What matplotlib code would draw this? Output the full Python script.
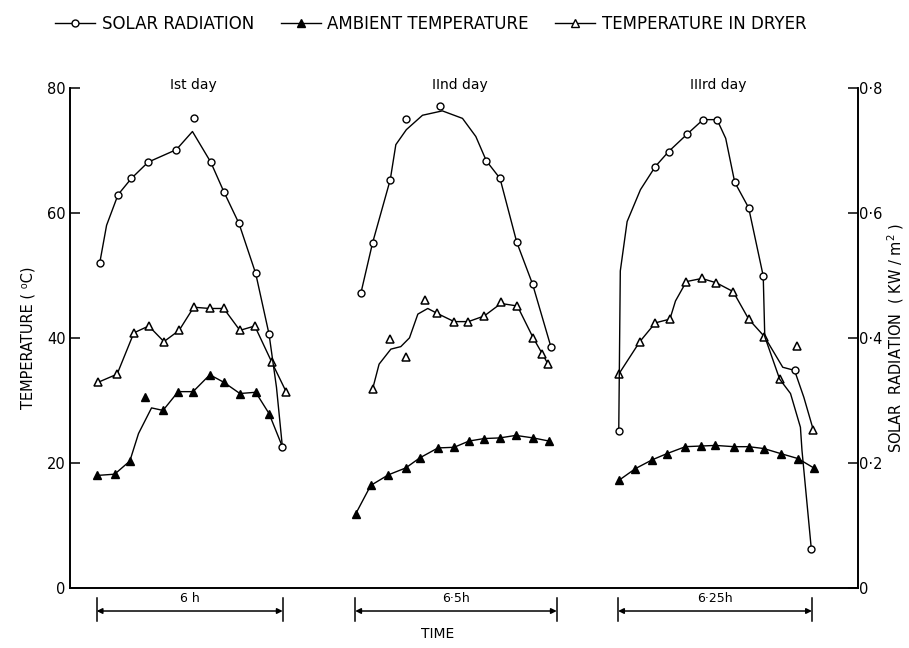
import matplotlib
matplotlib.use("AGG")
import matplotlib.pyplot as plt
import matplotlib.transforms as mtransforms
import numpy as np

day_names = ["Ist day", "IInd day", "IIIrd day"]
day_hours = [6, 6.5, 6.25]
day_hour_labels = ["6 h", "6·5h", "6·25h"]

# readings, in hours after the start of each day's run
solar_t = [
    [0.08, 0.67, 1.10, 1.64, 2.55, 3.11, 3.66, 4.08, 4.57, 5.11, 5.54, 5.97],
    [0.16, 0.54, 1.11, 1.63, 2.72, 4.21, 4.65, 5.19, 5.70, 6.29],
    [0.0, 1.18, 1.61, 2.21, 2.72, 3.17, 3.74, 4.19, 4.66, 5.67, 6.21],
]
solar_kw = [
    [0.520, 0.629, 0.655, 0.681, 0.701, 0.751, 0.681, 0.634, 0.583, 0.503, 0.406, 0.226],
    [0.471, 0.552, 0.653, 0.750, 0.770, 0.683, 0.655, 0.553, 0.486, 0.386],
    [0.251, 0.674, 0.698, 0.726, 0.749, 0.749, 0.649, 0.608, 0.499, 0.348, 0.063],
]
# hand drawn curves
solar_curve_t = [
    [0.08, 0.30, 0.67, 1.10, 1.64, 2.55, 3.07, 3.66, 4.08, 4.57, 5.11, 5.54, 5.78, 5.97],
    [0.16, 0.54, 1.11, 1.29, 1.63, 2.15, 2.79, 3.44, 3.87, 4.21, 4.65, 5.19, 5.70, 6.29],
    [0.0, 0.05, 0.27, 0.70, 1.18, 1.61, 2.21, 2.72, 3.17, 3.45, 3.74, 4.19, 4.66, 4.71,
     5.19, 5.54, 5.86, 5.91, 6.21],
]
solar_curve_kw = [
    [0.520, 0.580, 0.629, 0.655, 0.681, 0.701, 0.730, 0.681, 0.634, 0.583, 0.503, 0.406, 0.321, 0.226],
    [0.471, 0.552, 0.653, 0.709, 0.733, 0.756, 0.763, 0.751, 0.722, 0.683, 0.655, 0.553, 0.486, 0.386],
    [0.251, 0.507, 0.586, 0.637, 0.674, 0.698, 0.726, 0.749, 0.749, 0.719, 0.649, 0.608, 0.499, 0.402,
     0.334, 0.311, 0.257, 0.220, 0.063],
]

ambient_t = [
    [0.0, 0.56, 1.05, 1.55, 2.12, 2.61, 3.09, 3.63, 4.08, 4.60, 5.11, 5.54],
    [0.0, 0.48, 1.05, 1.61, 2.06, 2.65, 3.17, 3.65, 4.14, 4.64, 5.16, 5.72, 6.23],
    [0.0, 0.54, 1.08, 1.56, 2.15, 2.64, 3.12, 3.71, 4.19, 4.68, 5.22, 5.78, 6.29],
]
ambient_c = [
    [18.0, 18.2, 20.3, 30.6, 28.4, 31.4, 31.4, 34.1, 32.9, 31.1, 31.3, 27.9],
    [11.9, 16.4, 18.1, 19.2, 20.8, 22.4, 22.5, 23.5, 23.9, 24.0, 24.4, 24.0, 23.5],
    [17.2, 19.1, 20.5, 21.5, 22.6, 22.7, 22.8, 22.6, 22.6, 22.3, 21.5, 20.7, 19.2],
]
ambient_curve_t = [
    [0.0, 0.56, 1.05, 1.33, 1.75, 2.12, 2.61, 3.09, 3.63, 4.08, 4.60, 5.11, 5.54, 5.97],
    [0.0, 0.48, 1.05, 1.61, 2.06, 2.65, 3.17, 3.65, 4.14, 4.64, 5.16, 5.72, 6.23],
    [0.0, 0.54, 1.08, 1.56, 2.15, 2.64, 3.12, 3.71, 4.19, 4.68, 5.22, 5.78, 6.29],
]
ambient_curve_c = [
    [18.0, 18.2, 20.3, 24.7, 28.8, 28.4, 31.4, 31.4, 34.1, 32.9, 31.1, 31.3, 27.9, 22.6],
    [11.9, 16.4, 18.1, 19.2, 20.8, 22.4, 22.5, 23.5, 23.9, 24.0, 24.4, 24.0, 23.5],
    [17.2, 19.1, 20.5, 21.5, 22.6, 22.7, 22.8, 22.6, 22.6, 22.3, 21.5, 20.7, 19.2],
]

dryer_t = [
    [0.03, 0.64, 1.18, 1.66, 2.15, 2.64, 3.11, 3.63, 4.08, 4.60, 5.08, 5.62, 6.10],
    [0.54, 1.11, 1.61, 2.23, 2.63, 3.17, 3.63, 4.14, 4.68, 5.21, 5.72, 6.02, 6.20],
    [0.0, 0.68, 1.18, 1.65, 2.18, 2.68, 3.15, 3.69, 4.19, 4.70, 5.19, 5.75, 6.28],
]
dryer_c = [
    [32.9, 34.2, 40.8, 41.9, 39.4, 41.2, 44.9, 44.7, 44.7, 41.2, 41.9, 36.2, 31.3],
    [31.8, 39.8, 37.0, 46.0, 43.9, 42.6, 42.6, 43.5, 45.8, 45.1, 40.0, 37.4, 35.8],
    [34.2, 39.4, 42.4, 43.0, 49.0, 49.5, 48.8, 47.4, 43.0, 40.2, 33.4, 38.7, 25.2],
]
dryer_curve_t = [
    [0.03, 0.64, 1.18, 1.66, 2.15, 2.64, 3.11, 3.63, 4.08, 4.60, 5.08, 5.62, 6.10],
    [0.54, 0.75, 1.13, 1.45, 1.73, 2.00, 2.32, 2.63, 3.17, 3.63, 4.14, 4.68, 5.21, 5.72, 6.02, 6.20],
    [0.0, 0.68, 1.18, 1.65, 1.83, 2.18, 2.68, 3.15, 3.69, 4.19, 4.70, 5.29, 5.67, 5.97, 6.28],
]
dryer_curve_c = [
    [32.9, 34.2, 40.8, 41.9, 39.4, 41.2, 44.9, 44.7, 44.7, 41.2, 41.9, 36.2, 31.3],
    [31.8, 35.8, 38.2, 38.6, 40.0, 43.8, 44.7, 43.9, 42.6, 42.6, 43.5, 45.5, 45.1, 40.0, 37.4, 35.8],
    [34.2, 39.4, 42.4, 43.0, 45.9, 49.0, 49.5, 48.8, 47.4, 43.0, 40.2, 35.3, 34.8, 30.5, 25.2],
]

# where each day sits on the time axis (hours from the left axis)
day_start = [0.88, 9.22, 17.70]

plt.rcParams["font.family"] = ["DejaVu Sans"]
fig = plt.figure(figsize=(9.09, 6.48), dpi=100)
ax = fig.add_axes([0.077, 0.0926, 0.867, 0.772])
ax2 = ax.twinx()

lw = 1.0
for i in range(3):
    off = day_start[i]
    ax2.plot(off + np.array(solar_curve_t[i]), solar_curve_kw[i], color="black", lw=lw)
    ax2.plot(off + np.array(solar_t[i]), solar_kw[i], ls="none", marker="o", ms=5,
             mfc="white", mec="black", mew=1.0)
    ax.plot(off + np.array(ambient_curve_t[i]), ambient_curve_c[i], color="black", lw=lw)
    ax.plot(off + np.array(ambient_t[i]), ambient_c[i], ls="none", marker="^", ms=5.5,
            mfc="black", mec="black")
    ax.plot(off + np.array(dryer_curve_t[i]), dryer_curve_c[i], color="black", lw=lw)
    ax.plot(off + np.array(dryer_t[i]), dryer_c[i], ls="none", marker="^", ms=5.5,
            mfc="white", mec="black", mew=1.1)
    ax.text(off + day_hours[i] / 2 + 0.1, 80.5, day_names[i], ha="center", va="center",
            fontsize=10, clip_on=False)

xmax = 25.42
ax.set_xlim(0, xmax)
ax.set_ylim(0, 80)
ax2.set_ylim(0, 0.8)
ax.set_xticks([])
ax.set_yticks([0, 20, 40, 60, 80])
ax2.set_yticks([0, 0.2, 0.4, 0.6, 0.8])
ax2.set_yticklabels(["0", "0·2", "0·4", "0·6", "0·8"])
for a in (ax, ax2):
    a.spines["top"].set_visible(False)
    for s in a.spines.values():
        s.set_linewidth(1.2)
    a.tick_params(direction="in", length=7, width=1.1, labelsize=10.5, pad=3)
ax2.tick_params(pad=1)
ax.set_ylabel("TEMPERATURE ( ⁰C)", fontsize=10.5, labelpad=8)
ax2.set_ylabel("SOLAR  RADIATION  ( KW / m$^2$ )", fontsize=10.5, labelpad=2)

# duration brackets under the axis
trans = mtransforms.blended_transform_factory(ax.transData, ax.transAxes)
for i in range(3):
    x0 = day_start[i] - 0.02
    x1 = x0 + day_hours[i]
    for x in (x0, x1):
        ax.plot([x, x], [-0.02, -0.066], color="black", lw=1.1, transform=trans, clip_on=False)
    ax.annotate("", xy=(x0, -0.046), xytext=(x1, -0.046), xycoords=trans, textcoords=trans,
                arrowprops=dict(arrowstyle="<|-|>", color="black", lw=1.1,
                                mutation_scale=8, shrinkA=0, shrinkB=0))
    ax.text((x0 + x1) / 2, -0.02, day_hour_labels[i], transform=trans, ha="center",
            va="center", fontsize=9)
fig.text(0.481, 0.022, "TIME", ha="center", va="center", fontsize=10)

handles = [
    plt.Line2D([], [], color="black", lw=lw, marker="o", ms=5, mfc="white", mec="black"),
    plt.Line2D([], [], color="black", lw=lw, marker="^", ms=6, mfc="black", mec="black"),
    plt.Line2D([], [], color="black", lw=lw, marker="^", ms=5.5, mfc="white", mec="black"),
]
fig.legend(handles, ["SOLAR RADIATION", "AMBIENT TEMPERATURE", "TEMPERATURE IN DRYER"],
           loc="upper center", bbox_to_anchor=(0.474, 1.0), ncol=3, frameon=False,
           handlelength=2.4, handletextpad=0.4, columnspacing=1.6,
           prop={"size": 12})

fig.savefig("out.png", dpi=100)
